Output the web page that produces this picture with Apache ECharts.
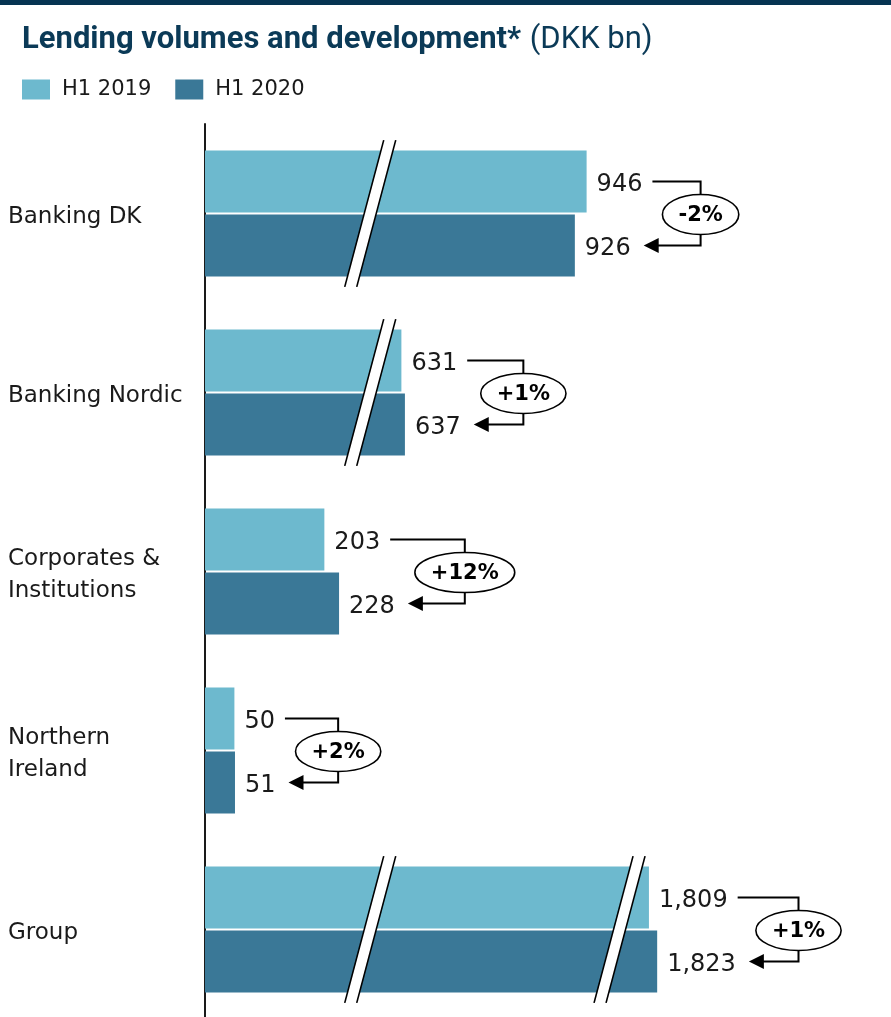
<!DOCTYPE html>
<html>
<head>
<meta charset="utf-8">
<script src="https://cdn.jsdelivr.net/npm/echarts@6/dist/echarts.min.js"></script>
<style>
  html, body { margin: 0; padding: 0; background: #fff; }
  #main { width: 891px; height: 1017px; }
</style>
</head>
<body>
<div id="main"></div>
<script>
// data
const categories = ["Banking DK", "Banking Nordic", "Corporates &\nInstitutions", "Northern\nIreland", "Group"];
const h1_2019 = [946, 631, 203, 50, 1809];
const h1_2020 = [926, 637, 228, 51, 1823];
const changes = ["-2%", "+1%", "+12%", "+2%", "+1%"];
// removed ranges of the value axis (the // marks)
const axisBreaks = [[281, 578], [1002, 1759]];
const axisMax = 2054;

const lightBlue = "#6db9ce";
const darkBlue = "#3a7897";
const valueFont = '24px "DejaVu Sans"';
const pctFont = 'bold 21px "DejaVu Sans"';

let measureCtx = document.createElement("canvas").getContext("2d");
let textWidth = (txt, font) => {
  measureCtx.font = font;
  return measureCtx.measureText(txt).width;
};
let fmt = (v) => v.toLocaleString("en-US");

let myChart = document.getElementById("main");
let chart = echarts.init(myChart, null, { renderer: "canvas" });

// slashes + bracket with change in ellipse
let renderNote = (params, api) => {
  let i = params.dataIndex;
  let v1 = api.value(0);
  let v2 = api.value(2);
  let cy = api.coord([0, i])[1];
  let band = api.size([0, 1])[1];
  let y1 = cy - 32;
  let y2 = cy + 32;
  let x1 = api.coord([v1, i])[0];
  let x2 = api.coord([v2, i])[0];
  let children = [];

  let hh = band * 0.41;
  let shift = 19.5;
  axisBreaks.forEach((b) => {
    if (Math.max(v1, v2) <= b[1]) return;
    let sx = api.coord([b[0], i])[0];
    children.push({
      type: "polygon",
      shape: { points: [[sx - 6 + shift, cy - hh], [sx + 6 + shift, cy - hh], [sx + 6 - shift, cy + hh], [sx - 6 - shift, cy + hh]] },
      style: { fill: "#fff" },
    });
    [-6, 6].forEach((d) => {
      children.push({
        type: "line",
        shape: { x1: sx + d + shift, y1: cy - hh, x2: sx + d - shift, y2: cy + hh },
        style: { stroke: "#000", lineWidth: 1.6 },
      });
    });
  });

  let e1 = x1 + 10 + textWidth(fmt(v1), valueFont);
  let e2 = x2 + 10 + textWidth(fmt(v2), valueFont);
  let pct = changes[i];
  let rx = (textWidth(pct, pctFont) + 32) / 2;
  let ry = 20;
  let ex = Math.max(e1, e2) + 20 + rx;
  let ey = cy + 1;
  let tip = e2 + 13;

  children.push({
    type: "polyline",
    shape: { points: [[e1 + 10, y1], [ex, y1], [ex, ey - ry]] },
    style: { stroke: "#000", lineWidth: 2, fill: null },
  });
  children.push({
    type: "polyline",
    shape: { points: [[ex, ey + ry], [ex, y2], [tip + 12, y2]] },
    style: { stroke: "#000", lineWidth: 2, fill: null },
  });
  children.push({
    type: "polygon",
    shape: { points: [[tip, y2], [tip + 15, y2 - 7.5], [tip + 15, y2 + 7.5]] },
    style: { fill: "#000" },
  });
  children.push({
    type: "ellipse",
    shape: { cx: ex, cy: ey, rx: rx, ry: ry },
    style: { fill: "#fff", stroke: "#000", lineWidth: 1.6 },
  });
  children.push({
    type: "text",
    style: {
      text: pct, x: ex, y: ey + 1, align: "center", verticalAlign: "middle",
      font: pctFont, fill: "#000",
    },
  });
  return { type: "group", children: children };
};

let barLabel = {
  show: true,
  position: "right",
  distance: 10,
  offset: [0, 3],
  fontSize: 24,
  fontFamily: "DejaVu Sans",
  color: "#1a1a1a",
  formatter: (p) => fmt(p.value),
};

let option = {
  animation: false,
  graphic: [
    { type: "rect", left: 0, top: 0, shape: { width: 891, height: 5 }, style: { fill: "#063452" } },
  ],
  title: {
    text: "{b|Lending volumes and development*} {r|(DKK bn)}",
    left: 22,
    top: 25,
    padding: 0,
    textStyle: {
      fontSize: 31,
      rich: {
        b: { fontFamily: "Roboto", fontWeight: "bold", fontSize: 31, color: "#0b3a57" },
        r: { fontFamily: "Roboto", fontWeight: "normal", fontSize: 31, color: "#0b3a57" },
      },
    },
  },
  legend: {
    data: ["H1 2019", "H1 2020"],
    left: 22,
    top: 79,
    padding: 0,
    icon: "rect",
    itemWidth: 28,
    itemHeight: 20,
    itemGap: 24,
    textStyle: { fontSize: 21, fontFamily: "DejaVu Sans", color: "#1a1a1a", padding: [0, 0, 0, 7] },
  },
  grid: { left: 205, top: 124, width: 588, height: 895, outerBoundsMode: "none" },
  xAxis: {
    type: "value",
    min: 0,
    max: axisMax,
    breaks: axisBreaks.map((b) => ({ start: b[0], end: b[1], gap: 0 })),
    breakArea: { show: false },
    axisLine: { show: false },
    axisTick: { show: false },
    axisLabel: { show: false },
    splitLine: { show: false },
  },
  yAxis: {
    type: "category",
    inverse: true,
    data: categories,
    axisTick: { show: false },
    axisLine: { show: true, lineStyle: { color: "#1a1a1a", width: 2 } },
    axisLabel: {
      align: "left",
      margin: 197,
      // small empty first line pushes the names a few px down
      formatter: (v) => "{s| }\n" + v.split("\n").map((t) => "{a|" + t + "}").join("\n"),
      rich: {
        s: { fontSize: 4, lineHeight: 8 },
        a: { fontSize: 23, lineHeight: 32, fontFamily: "DejaVu Sans", color: "#1a1a1a" },
      },
    },
  },
  series: [
    { name: "H1 2019", type: "bar", data: h1_2019, barWidth: 62, barGap: "3.2%", itemStyle: { color: lightBlue }, label: barLabel },
    { name: "H1 2020", type: "bar", data: h1_2020, barWidth: 62, itemStyle: { color: darkBlue }, label: barLabel },
    {
      name: "change",
      type: "custom",
      z: 5,
      clip: false,
      encode: { x: 0, y: 1 },
      data: categories.map((c, i) => [h1_2019[i], i, h1_2020[i]]),
      renderItem: renderNote,
    },
  ],
};

chart.setOption(option);
</script>
</body>
</html>
